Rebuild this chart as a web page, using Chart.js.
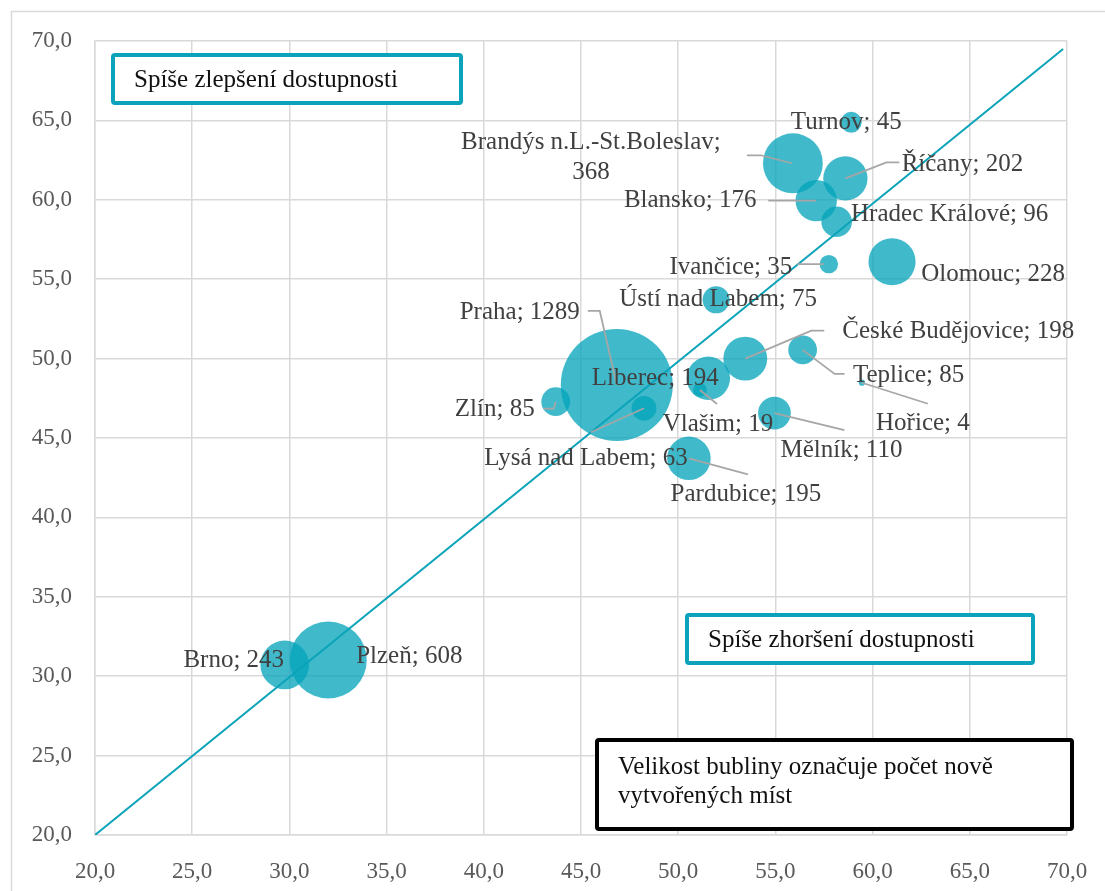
<!DOCTYPE html>
<html>
<head>
<meta charset="utf-8">
<script src="https://cdn.jsdelivr.net/npm/chart.js@4/dist/chart.umd.min.js"></script>
<style>
  html, body { margin: 0; padding: 0; background: #fff; }
  #wrap { width: 1105px; height: 891px; position: relative; }
</style>
</head>
<body>
<div id="wrap"><canvas id="chart"></canvas></div>
<script>
// data
const cities = [
  'Praha', 'Plzeň', 'Brandýs n.L.-St.Boleslav', 'Brno', 'Olomouc',
  'Říčany', 'České Budějovice', 'Pardubice', 'Liberec', 'Blansko',
  'Mělník', 'Hradec Králové', 'Zlín', 'Teplice', 'Ústí nad Labem',
  'Lysá nad Labem', 'Turnov', 'Ivančice', 'Vlašim', 'Hořice'
];
const xValues = [
  46.84, 32.0, 55.9, 29.76, 61.0,
  58.6, 53.45, 50.55, 51.55, 57.1,
  54.95, 58.15, 43.7, 56.4, 51.95,
  48.24, 58.9, 57.75, 51.12, 59.45
];
const yValues = [
  48.34, 31.02, 62.3, 30.71, 56.1,
  61.35, 50.0, 43.72, 48.76, 59.95,
  46.57, 58.62, 47.29, 50.55, 53.7,
  46.87, 64.88, 55.95, 48.02, 48.48
];
const newJobs = [
  1289, 608, 368, 243, 228,
  202, 198, 195, 194, 176,
  110, 96, 85, 85, 75,
  63, 45, 35, 19, 4
];
const diagonalX = [20, 69.8];
const diagonalY = [20, 69.5];

const AXIS_MIN = 20;
const AXIS_MAX = 70;
const AXIS_STEP = 5;

const BUBBLE_SCALE = 1.56; // px radius per sqrt(job)
const TEAL = '#0aa3b9';
const FONT = '"Liberation Serif", "DejaVu Serif", serif';

// label placement (px offsets from bubble centre), leader points too
const labelLayout = {
  'Praha': { dx: -97, dy: -73, leader: [[-29, -74], [-17, -74], [0, 0]] },
  'Plzeň': { dx: 81, dy: -4 },
  'Brandýs n.L.-St.Boleslav': { dx: -202, dy: -21, wrap: true, leader: [[-46, -8], [-32, -8], [-1, 0]] },
  'Brno': { dx: -51, dy: -4 },
  'Olomouc': { dx: 101, dy: 13 },
  'Říčany': { dx: 117, dy: -14, leader: [[0, 0], [41, -16], [54, -16]] },
  'České Budějovice': { dx: 213, dy: -27, leader: [[0, 0], [66, -28], [79, -28]] },
  'Pardubice': { dx: 57, dy: 36, leader: [[0, 0], [59, 16]] },
  'Liberec': { dx: -53, dy: 0 },
  'Blansko': { dx: -126, dy: 0, leader: [[-48, 0], [0, 0]] },
  'Mělník': { dx: 67, dy: 37, leader: [[0, 0], [70, 17]] },
  'Hradec Králové': { dx: 113, dy: -7 },
  'Zlín': { dx: -61, dy: 8, leader: [[-12, 7], [-2, 7], [0, 0]] },
  'Teplice': { dx: 106, dy: 26, leader: [[0, 0], [32, 24], [42, 24]] },
  'Ústí nad Labem': { dx: 2, dy: 0 },
  'Lysá nad Labem': { dx: -58, dy: 50, leader: [[0, 0], [-53, 24]] },
  'Turnov': { dx: -5, dy: 0 },
  'Ivančice': { dx: -98, dy: 3, leader: [[-32, 0], [-5, 0]] },
  'Vlašim': { dx: 18, dy: 34, leader: [[0, 0], [17, 14]] },
  'Hořice': { dx: 61, dy: 41, leader: [[0, 0], [66, 21]] }
};

const fmt = v => Number(v).toFixed(1).replace('.', ',');

const bubbleData = cities.map((c, i) => ({
  x: xValues[i], y: yValues[i], r: BUBBLE_SCALE * Math.sqrt(newJobs[i])
}));
const lineData = diagonalX.map((x, i) => ({ x: x, y: diagonalY[i] }));

// white background + outer light frame
const framePlugin = {
  id: 'frame',
  beforeDraw(chart) {
    const ctx = chart.ctx;
    ctx.save();
    ctx.fillStyle = '#fff';
    ctx.fillRect(0, 0, chart.width, chart.height);
    ctx.strokeStyle = '#d9d9d9';
    ctx.lineWidth = 1.5;
    ctx.strokeRect(11.5, 11.5, chart.width + 20, chart.height + 20);
    ctx.restore();
  }
};

// city labels with grey leader lines
const labelPlugin = {
  id: 'cityLabels',
  afterDatasetsDraw(chart) {
    const ctx = chart.ctx;
    const meta = chart.getDatasetMeta(1);
    ctx.save();
    meta.data.forEach((pt, i) => {
      const name = cities[i];
      const lay = labelLayout[name] || { dx: 0, dy: 0 };
      if (lay.leader) {
        ctx.strokeStyle = '#a6a6a6';
        ctx.lineWidth = 1.75;
        ctx.beginPath();
        lay.leader.forEach((p, k) => {
          if (k === 0) ctx.moveTo(pt.x + p[0], pt.y + p[1]);
          else ctx.lineTo(pt.x + p[0], pt.y + p[1]);
        });
        ctx.stroke();
      }
    });
    ctx.fillStyle = '#404040';
    ctx.font = '25px ' + FONT;
    ctx.textAlign = 'center';
    ctx.textBaseline = 'middle';
    meta.data.forEach((pt, i) => {
      const name = cities[i];
      const lay = labelLayout[name] || { dx: 0, dy: 0 };
      const tx = pt.x + lay.dx;
      const ty = pt.y + lay.dy;
      if (lay.wrap) {
        ctx.fillText(name + ';', tx, ty);
        ctx.fillText(String(newJobs[i]), tx, ty + 30);
      } else {
        ctx.fillText(name + '; ' + newJobs[i], tx, ty);
      }
    });
    ctx.restore();
  }
};

// the three text boxes
const boxPlugin = {
  id: 'textBoxes',
  afterDraw(chart) {
    const ctx = chart.ctx;
    const a = chart.chartArea;
    const boxes = [
      { x: a.left + 18, y: a.top + 14, w: 348, h: 48, color: TEAL, lines: ['Spíše zlepšení dostupnosti'] },
      { x: a.left + 592, y: a.top + 574, w: 346, h: 48, color: TEAL, lines: ['Spíše zhoršení dostupnosti'] },
      { x: a.left + 502, y: a.top + 699, w: 475, h: 89, color: '#000',
        lines: ['Velikost bubliny označuje počet nově', 'vytvořených míst'] }
    ];
    ctx.save();
    boxes.forEach(b => {
      ctx.fillStyle = '#fff';
      ctx.strokeStyle = b.color;
      ctx.lineWidth = 4;
      ctx.beginPath();
      ctx.roundRect(b.x, b.y, b.w, b.h, 2);
      ctx.fill();
      ctx.stroke();
      ctx.fillStyle = '#111';
      ctx.font = '25px ' + FONT;
      ctx.textAlign = 'left';
      ctx.textBaseline = 'middle';
      if (b.lines.length === 1) {
        ctx.fillText(b.lines[0], b.x + 21, b.y + b.h / 2 + 1);
      } else {
        ctx.fillText(b.lines[0], b.x + 21, b.y + 27);
        ctx.fillText(b.lines[1], b.x + 21, b.y + 56);
      }
    });
    ctx.restore();
  }
};

const axisCommon = {
  type: 'linear',
  min: AXIS_MIN,
  max: AXIS_MAX,
  grid: { color: '#d9d9d9', lineWidth: 1.5, drawTicks: false },
  border: { color: '#d9d9d9', width: 1.5 },
  ticks: {
    stepSize: AXIS_STEP,
    color: '#595959',
    font: { family: FONT, size: 23 },
    callback: v => fmt(v)
  }
};

new Chart(document.getElementById('chart'), {
  type: 'bubble',
  data: {
    datasets: [
      {
        type: 'line',
        label: 'diagonála',
        data: lineData,
        borderColor: TEAL,
        borderWidth: 2,
        pointRadius: 0,
        fill: false,
        order: 0
      },
      {
        label: 'Počet nově vytvořených míst',
        data: bubbleData,
        backgroundColor: 'rgba(0, 163, 186, 0.75)',
        borderWidth: 0,
        order: 1
      }
    ]
  },
  options: {
    responsive: true,
    maintainAspectRatio: false,
    animation: false,
    events: [],
    layout: { autoPadding: false, padding: { left: 11, top: 41, right: 38, bottom: 0 } },
    plugins: {
      legend: { display: false },
      tooltip: { enabled: false }
    },
    scales: {
      x: {
        ...axisCommon,
        ticks: { ...axisCommon.ticks, padding: 23, maxRotation: 0 },
        afterFit: s => {
          s.height = 56;
          s.paddingLeft = 0;
          s.paddingRight = 0;
        }
      },
      y: {
        ...axisCommon,
        ticks: { ...axisCommon.ticks, padding: 23 },
        afterFit: s => {
          s.width = 84;
          s.paddingTop = 0;
          s.paddingBottom = 0;
        }
      }
    }
  },
  plugins: [framePlugin, labelPlugin, boxPlugin]
});
</script>
</body>
</html>
